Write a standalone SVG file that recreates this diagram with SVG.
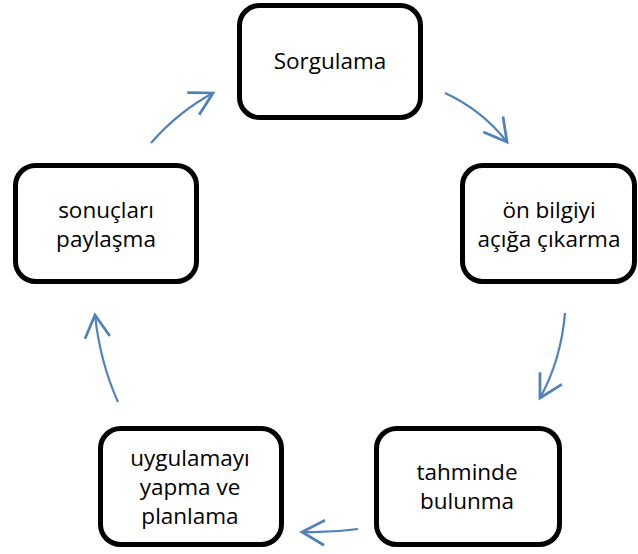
<svg xmlns="http://www.w3.org/2000/svg" width="638" height="554" viewBox="0 0 638 554">
<defs>
<style>
.box{fill:#fff;stroke:#000;stroke-width:5}
.lbl{font-family:"Open Sans","Noto Sans",sans-serif;font-size:22.5px;fill:#000;text-anchor:middle}
.arr{fill:none;stroke:#4F81BD;stroke-width:2.2;marker-end:url(#ah)}
</style>
<marker id="ah" markerUnits="userSpaceOnUse" markerWidth="30" markerHeight="30" viewBox="-20 -12 24 24" refX="0" refY="0" orient="auto">
<path d="M-18,-10 L0,0 L-18,10" fill="none" stroke="#4F81BD" stroke-width="2.2"/>
</marker>
</defs>
<rect width="638" height="554" fill="#fff"/>
<g id="n1"><rect class="box" x="239.5" y="5.5" width="181" height="112" rx="20"/><text class="lbl" x="330" y="69">Sorgulama</text></g>
<g id="n2"><rect class="box" x="462.5" y="165.5" width="172" height="116" rx="20"/><text class="lbl" x="549" y="218">ön bilgiyi</text><text class="lbl" x="549" y="247">açığa çıkarma</text></g>
<g id="n3"><rect class="box" x="376.5" y="428.5" width="183" height="116" rx="20"/><text class="lbl" x="467" y="480">tahminde</text><text class="lbl" x="467" y="509">bulunma</text></g>
<g id="n4"><rect class="box" x="100.5" y="428.5" width="181" height="116" rx="20"/><text class="lbl" x="190" y="466">uygulamayı</text><text class="lbl" x="190" y="495">yapma ve</text><text class="lbl" x="190" y="524">planlama</text></g>
<g id="n5"><rect class="box" x="15.5" y="165.5" width="181" height="116" rx="20"/><text class="lbl" x="106" y="218">sonuçları</text><text class="lbl" x="106" y="247">paylaşma</text></g>
<g id="connectors">
<path class="arr" d="M445,93 Q482,110 507,142"/>
<path class="arr" d="M565,313 Q561,360 540,398"/>
<path class="arr" d="M358,529 Q330,533 302,532"/>
<path class="arr" d="M118,402 Q100,362 95,315"/>
<path class="arr" d="M151,143 Q178,112 213,93"/>
</g>
</svg>
